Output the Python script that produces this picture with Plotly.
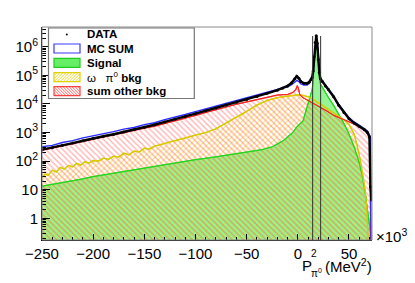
import plotly.graph_objects as go

# ---------------- data (x in 10^3 MeV^2) ----------------
x_data = [-250, -240, -230, -220, -210, -200, -190, -180, -170, -160, -150, -140, -130, -120, -110,
          -100, -90, -80, -70, -60, -50, -40, -30, -20, -15, -10, -6, -3, -1, 1, 3, 6, 9, 11, 13,
          14, 15, 16, 17, 18, 19, 20, 21, 22, 24, 27, 30, 35, 40, 45, 50, 55, 60, 65, 68, 70, 71, 72]
data = [251, 295, 355, 427, 513, 631, 741, 871, 1047, 1259, 1514, 1862, 2344, 2884, 3631,
        4571, 5754, 7244, 9120, 11480, 14130, 18200, 23440, 30200, 35480, 42660, 54950, 75860, 93330,
        79430, 60260, 52480, 52480, 57540, 70800, 83180, 141250, 446680, 1412540, 2398830, 1318260,
        354810, 125890, 75860, 60260, 42660, 31620, 17780, 8910, 5010, 3020, 2140, 1660, 1260, 1000,
        708, 12.6, 4.4]

x_mc = [-250, -240, -230, -220, -210, -200, -190, -180, -170, -160, -150, -140, -130, -120, -110,
        -100, -90, -80, -70, -60, -50, -40, -30, -20, -15, -10, -6, -3, -1, 1, 3, 6, 9, 11, 13,
        14, 15, 16, 17, 18, 19, 20, 21, 22, 24, 27, 30, 35, 40, 45, 50, 55, 60, 65, 68, 70, 71, 71.6]
mc_sum = [316, 355, 447, 520, 650, 760, 930, 1070, 1310, 1500, 1880, 2200, 2820, 3390, 4250,
          5350, 6700, 8450, 10600, 13300, 16400, 20600, 26500, 33100, 35480, 39810, 46770, 57540, 66070,
          60260, 50120, 45710, 45710, 51290, 66070, 79430, 131830, 398110, 1318260, 2511890, 1380380,
          398110, 131830, 79430, 63100, 45710, 33880, 19050, 9550, 5370, 3311, 2344, 1820, 1380, 1122,
          832, 631, 0.03]

x_other = [-250, -240, -230, -220, -210, -200, -190, -180, -170, -160, -150, -140, -130, -120, -110,
           -100, -90, -80, -70, -60, -50, -40, -30, -20, -10, -5, -2, -0.5, 0.5, 2, 5, 10, 15, 20,
           28, 35, 45, 52, 60, 66, 69, 70.5, 71.3]
other_bkg = [240, 282, 339, 407, 490, 589, 692, 832, 977, 1175, 1413, 1660, 2042, 2512, 3162,
             3981, 5012, 6310, 7943, 9772, 11750, 14130, 17380, 20420, 21380, 25120, 31620, 43650,
             35480, 20890, 16600, 13180, 10470, 8510, 5750, 3981, 2818, 2239, 1660, 1202, 891, 501, 0.03]

x_omega = [-250, -247, -244, -240, -236, -232, -228, -224, -220, -216, -212, -208, -204, -200, -195,
           -190, -185, -180, -175, -170, -165, -160, -155, -150, -145, -140, -130, -120, -110, -100,
           -90, -80, -70, -60, -50, -40, -30, -20, -10, 0, 5, 10, 15, 20, 25, 30, 35, 40, 45, 50,
           55, 58, 61, 64, 66, 67.5, 68.5, 69.5]
omega_bkg = [26.3, 35.5, 31.6, 47.9, 41.7, 60.3, 52.5, 70.8, 63.1, 83.2, 72.4, 95.5, 85.1, 105, 100,
             126, 115, 148, 138, 191, 166, 224, 209, 282, 263, 331, 417, 525, 631, 794,
             1000, 1349, 2138, 3548, 5495, 9120, 13180, 16600, 19050, 20890, 19950, 17780, 14130,
             11220, 8510, 6310, 4786, 3715, 2818, 1905, 891, 355, 112, 25.1, 7.9, 2.0, 0.5, 0.03]

x_sig = [-250, -240, -230, -220, -210, -200, -190, -180, -170, -160, -150, -140, -130, -120, -110,
         -100, -85, -70, -56, -45, -35, -25, -14, -5, -1, 5, 9, 12, 14, 15, 16, 17, 18, 19, 20, 21,
         22, 25, 30, 35, 40, 45, 50, 55, 60, 63, 66, 68, 70, 71, 71.5]
signal = [13.2, 15.1, 17.4, 20.9, 24, 28.8, 33.1, 38, 43.7, 50.1, 57.5, 66.1, 75.9, 87.1, 100,
          112, 132, 158, 191, 214, 251, 316, 525, 1000, 1585, 2512, 7080, 17780, 31620, 63100,
          281840, 954990, 2138000, 1122000, 281840, 89130, 50120, 31620, 16600, 8910, 4467, 2089,
          891, 316, 89.1, 31.6, 7.08, 2.24, 0.63, 0.32, 0.01]

cut_lines = [14.5, 22.3]

x_ticks = [-250, -200, -150, -100, -50, 0, 50]
y_ticks = [1, 10, 100, 1000, 10000, 100000, 1000000]
y_ticktext = ["1", "10", "10<sup>2</sup>", "10<sup>3</sup>", "10<sup>4</sup>", "10<sup>5</sup>", "10<sup>6</sup>"]

legend_labels = ["<b>DATA</b>", "<b>MC SUM</b>", "<b>Signal</b>",
                 "ω   π<sup>0</sup> <b>bkg</b>", "<b>sum other bkg</b>"]

# ---------------- geometry helpers ----------------
FONT = "Liberation Sans, Arial, Helvetica, sans-serif"
L, R, T, B, W, H = 42, 43, 27, 43, 415, 283
PW, PH = W - L - R, H - T - B


def X(px):
    return (px - L) / PW


def Y(py):
    return (H - B - py) / PH


fig = go.Figure()

GREEN, YELLOW, RED = "#20d820", "#d8cc00", "#ff2020"

fig.add_trace(go.Scatter(x=x_sig, y=signal, mode="lines", line=dict(color=GREEN, width=1),
                         fill="tozeroy", fillcolor="rgba(85,238,85,0.62)", showlegend=False,
                         hoverinfo="skip"))
fig.add_trace(go.Scatter(x=x_omega, y=omega_bkg, mode="lines", line=dict(color=YELLOW, width=1.2),
                         fill="tozeroy", fillcolor="rgba(0,0,0,0)",
                         fillpattern=dict(shape="/", fgcolor="rgba(235,215,0,0.9)",
                                          bgcolor="rgba(0,0,0,0)", size=4, solidity=0.3),
                         showlegend=False, hoverinfo="skip"))
fig.add_trace(go.Scatter(x=x_other, y=other_bkg, mode="lines", line=dict(color=RED, width=1),
                         fill="tozeroy", fillcolor="rgba(0,0,0,0)",
                         fillpattern=dict(shape="\\", fgcolor="rgba(255,60,60,0.85)",
                                          bgcolor="rgba(0,0,0,0)", size=4, solidity=0.3),
                         showlegend=False, hoverinfo="skip"))
# outlines on top of the hatching
fig.add_trace(go.Scatter(x=x_sig, y=signal, mode="lines", line=dict(color=GREEN, width=1.2),
                         showlegend=False, hoverinfo="skip"))
fig.add_trace(go.Scatter(x=x_omega, y=omega_bkg, mode="lines", line=dict(color=YELLOW, width=1.3),
                         showlegend=False, hoverinfo="skip"))
fig.add_trace(go.Scatter(x=x_other, y=other_bkg, mode="lines", line=dict(color=RED, width=1.1),
                         showlegend=False, hoverinfo="skip"))
fig.add_trace(go.Scatter(x=x_mc, y=mc_sum, mode="lines", line=dict(color="#2a2aff", width=1.4),
                         showlegend=False, hoverinfo="skip"))
fig.add_trace(go.Scatter(x=x_data, y=data, mode="lines+markers", line=dict(color="black", width=2.4),
                         marker=dict(color="black", size=3), showlegend=False, hoverinfo="skip"))

shapes = []
# frame
shapes.append(dict(type="rect", xref="paper", yref="paper", x0=0, x1=1, y0=0, y1=1,
                   line=dict(color="#8a8a8a", width=1), layer="above"))
# cut lines
for xc in cut_lines:
    shapes.append(dict(type="line", xref="x", yref="paper", x0=xc, x1=xc, y0=0, y1=Y(36),
                       line=dict(color="#333333", width=1), layer="above"))

# legend box
shapes.append(dict(type="rect", xref="paper", yref="paper", x0=X(48.5), x1=X(194.3), y0=Y(98.5),
                   y1=Y(28), line=dict(color="#777777", width=1.2), fillcolor="white", layer="above"))
rows = [33.5, 48.5, 62.8, 77.2, 91.2]
bx0, bx1 = 54, 80
# DATA marker
shapes.append(dict(type="circle", xref="paper", yref="paper", x0=X(65.8), x1=X(67.8), y0=Y(35.5),
                   y1=Y(33.5), fillcolor="black", line=dict(color="black", width=0), layer="above"))
# MC SUM box
shapes.append(dict(type="rect", xref="paper", yref="paper", x0=X(bx0), x1=X(bx1), y0=Y(rows[1] + 4.5),
                   y1=Y(rows[1] - 4.5), line=dict(color="#3a3aff", width=1.2), fillcolor="white",
                   layer="above"))
# Signal box
shapes.append(dict(type="rect", xref="paper", yref="paper", x0=X(bx0), x1=X(bx1), y0=Y(rows[2] + 4.5),
                   y1=Y(rows[2] - 4.5), line=dict(color="#20cc20", width=1.2), fillcolor="#66ee66",
                   layer="above"))


def hatched_box(cy, color, direction):
    top, bot = cy - 4.5, cy + 4.5
    shapes.append(dict(type="rect", xref="paper", yref="paper", x0=X(bx0), x1=X(bx1), y0=Y(bot),
                       y1=Y(top), line=dict(color=color, width=1.2), fillcolor="white", layer="above"))
    h = bot - top
    path = ""
    s = bx0 - h
    while s < bx1:
        pts = []
        for k in range(41):
            f = k / 40
            xx = s + h * f
            yy = (bot - h * f) if direction > 0 else (top + h * f)
            if bx0 <= xx <= bx1:
                pts.append((xx, yy))
        if len(pts) >= 2:
            path += "M{:.5f},{:.5f} L{:.5f},{:.5f} ".format(X(pts[0][0]), Y(pts[0][1]),
                                                          X(pts[-1][0]), Y(pts[-1][1]))
        s += 3
    shapes.append(dict(type="path", xref="paper", yref="paper", path=path,
                       line=dict(color=color, width=0.8), layer="above"))


hatched_box(rows[3], "#e0d000", 1)
hatched_box(rows[4], "#ff4040", -1)

annotations = []
for lbl, cy in zip(legend_labels, rows):
    annotations.append(dict(xref="paper", yref="paper", x=X(85), y=Y(cy), xanchor="left",
                            yanchor="middle", text=lbl, showarrow=False,
                            font=dict(family=FONT, size=11.5, color="black")))

# x exponent and title
annotations.append(dict(xref="paper", yref="paper", x=X(374), y=Y(235), xanchor="left", yanchor="middle",
                        text="×10<sup>3</sup>", showarrow=False, font=dict(family=FONT, size=15)))
annotations.append(dict(xref="paper", yref="paper", x=X(299.5), y=Y(265), xanchor="left", yanchor="middle",
                        text="P", showarrow=False, font=dict(family=FONT, size=15)))
annotations.append(dict(xref="paper", yref="paper", x=X(309), y=Y(253.5), xanchor="left", yanchor="middle",
                        text="2", showarrow=False, font=dict(family=FONT, size=10)))
annotations.append(dict(xref="paper", yref="paper", x=X(309), y=Y(273), xanchor="left", yanchor="middle",
                        text="π<sup>0</sup>", showarrow=False, font=dict(family=FONT, size=10)))
annotations.append(dict(xref="paper", yref="paper", x=X(374), y=Y(265), xanchor="right", yanchor="middle",
                        text="(MeV<sup>2</sup>)", showarrow=False, font=dict(family=FONT, size=15)))

minor_y = [m * 10 ** e for e in range(-1, 7) for m in range(2, 10)]

fig.update_layout(
    width=W, height=H, margin=dict(l=L, r=R, t=T, b=B, pad=0, autoexpand=False),
    paper_bgcolor="white", plot_bgcolor="white", showlegend=False,
    font=dict(family=FONT, size=15, color="black"),
    shapes=shapes, annotations=annotations,
    xaxis=dict(range=[-250, 72.5], tickmode="array", tickvals=x_ticks, ticks="inside", ticklen=6,
               tickcolor="black", tickwidth=1, showline=True, linecolor="black", linewidth=1,
               showgrid=False, zeroline=False, tickfont=dict(family=FONT, size=15), automargin=False,
               minor=dict(tickmode="linear", tick0=0, dtick=10, ticks="inside", ticklen=3,
                          tickcolor="black", showgrid=False)),
    yaxis=dict(type="log", range=[-0.76, 6.69], tickmode="array", tickvals=y_ticks, ticktext=y_ticktext,
               ticks="inside", ticklen=8, tickcolor="black", showline=True, linecolor="black",
               linewidth=1, showgrid=False, zeroline=False, tickfont=dict(family=FONT, size=15),
               automargin=False,
               minor=dict(tickmode="array", tickvals=minor_y, ticks="inside", ticklen=4,
                          tickcolor="black", showgrid=False)),
)

fig.write_html("out.html", config={"displayModeBar": False},
               post_script="document.body.style.margin='0px';")
